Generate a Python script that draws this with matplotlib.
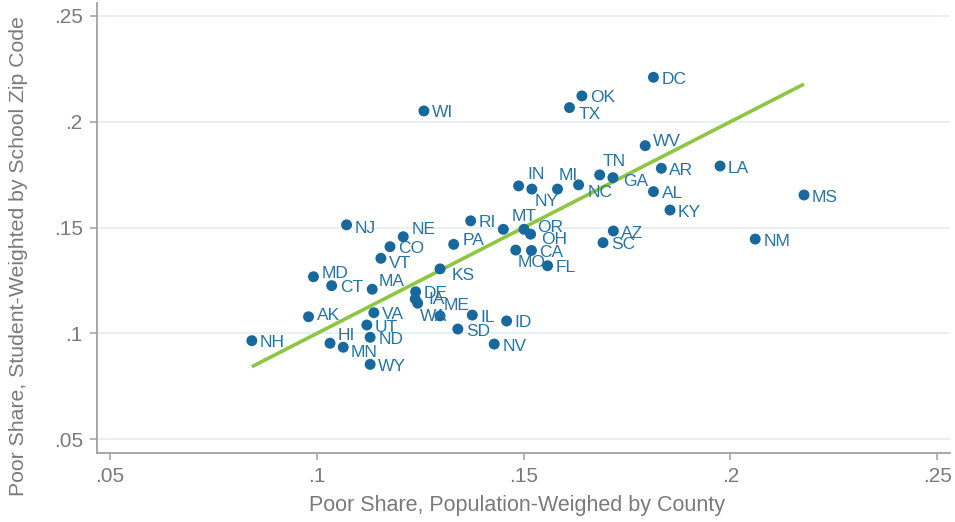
import numpy as np
import matplotlib
matplotlib.use("Agg")
import matplotlib.pyplot as plt
from matplotlib import font_manager

# State poverty shares: county population-weighted (x) vs school zip code student-weighted (y)
states = ['NH', 'AK', 'MD', 'CT', 'HI', 'MN', 'NJ', 'MA', 'VA', 'UT',
          'ND', 'WY', 'VT', 'CO', 'NE', 'DE', 'IA', 'WA', 'ME', 'KS',
          'PA', 'RI', 'IL', 'SD', 'NV', 'ID', 'MT', 'OR', 'OH', 'MO',
          'CA', 'FL', 'IN', 'NY', 'MI', 'NC', 'TN', 'GA', 'AZ', 'SC',
          'DC', 'OK', 'TX', 'WV', 'AR', 'LA', 'AL', 'KY', 'MS', 'NM', 'WI']
pop_share = [0.0843, 0.0980, 0.0992, 0.1036, 0.1032, 0.1064, 0.1072, 0.1134, 0.1138, 0.1121,
             0.1129, 0.1129, 0.1155, 0.1177, 0.1209, 0.1239, 0.1238, 0.1244, 0.1298, 0.1298,
             0.1331, 0.1372, 0.1376, 0.1341, 0.1429, 0.1459, 0.1451, 0.1501, 0.1517, 0.1481,
             0.1519, 0.1558, 0.1488, 0.1520, 0.1582, 0.1633, 0.1684, 0.1716, 0.1717, 0.1692,
             0.1814, 0.1641, 0.1611, 0.1794, 0.1833, 0.1975, 0.1814, 0.1854, 0.2178, 0.2060, 0.1259]
student_share = [0.0966, 0.1079, 0.1268, 0.1226, 0.0954, 0.0935, 0.1513, 0.1209, 0.1098, 0.1040,
                 0.0982, 0.0854, 0.1355, 0.1410, 0.1457, 0.1197, 0.1163, 0.1143, 0.1083, 0.1305,
                 0.1421, 0.1532, 0.1087, 0.1021, 0.0950, 0.1059, 0.1492, 0.1492, 0.1469, 0.1394,
                 0.1392, 0.1320, 0.1697, 0.1682, 0.1682, 0.1702, 0.1749, 0.1736, 0.1484, 0.1429,
                 0.2210, 0.2122, 0.2067, 0.1887, 0.1780, 0.1791, 0.1670, 0.1583, 0.1654, 0.1446, 0.2051]

xticks = [0.05, 0.10, 0.15, 0.20, 0.25]
yticks = [0.05, 0.10, 0.15, 0.20, 0.25]
tick_labels = ['.05', '.1', '.15', '.2', '.25']

# label nudges in pixels (right, down); everything else sits just right of its marker
default_offset = (8, 2)
label_offsets = {
    'MD': (8, -3), 'NE': (8, -7), 'MA': (6, -8), 'HI': (8, -8), 'KS': (12, 7),
    'PA': (9, -4), 'IA': (13, 1), 'WA': (2, 13), 'ME': (4, -10), 'MT': (8, -13),
    'OR': (13, -2), 'OH': (10, 5), 'MO': (2, 12), 'IN': (9, -11), 'NY': (3, 12),
    'MI': (1, -14), 'NC': (9, 8), 'TN': (3, -13), 'GA': (10, 4), 'TX': (9, 7),
    'WV': (8, -4), 'NJ': (8, 4), 'VT': (8, 5), 'MN': (7, 5), 'AK': (8, -1),
}

available = {f.name for f in font_manager.fontManager.ttflist}
font = 'Liberation Sans' if 'Liberation Sans' in available else 'DejaVu Sans'
plt.rcParams['font.family'] = [font, 'DejaVu Sans']

dot_color = '#17689d'
text_color = '#2474a8'
fit_color = '#8dc641'
axis_gray = '#a0a0a0'
label_gray = '#7a7a7a'

fig = plt.figure(figsize=(9.55, 5.22), dpi=100)
ax = fig.add_axes([0.1013, 0.1328, 0.8935, 0.8615])

x = np.array(pop_share)
y = np.array(student_share)

ax.scatter(x, y, s=62, color=dot_color, edgecolors='none', zorder=3)

# 45-degree reference line across the observed range
xs = np.array([x.min(), x.max()])
ax.plot(xs, xs, color=fit_color, lw=2.6, zorder=2, solid_capstyle='butt')

px = 72.0 / fig.dpi
for st, xv, yv in zip(states, x, y):
    dx, dy = label_offsets.get(st, default_offset)
    ax.annotate(st, (xv, yv), xytext=(dx * px, -dy * px), textcoords='offset points',
                ha='left', va='center', fontsize=12.5, color=text_color, zorder=4)

ax.set_xlim(0.0468, 0.2531)
ax.set_ylim(0.0437, 0.2561)
ax.set_xticks(xticks)
ax.set_xticklabels(tick_labels)
ax.set_yticks(yticks)
ax.set_yticklabels(tick_labels)

ax.grid(axis='y', color='#e7eff0', lw=1.3, zorder=0)
ax.set_axisbelow(True)
for side in ['top', 'right']:
    ax.spines[side].set_visible(False)
for side in ['left', 'bottom']:
    ax.spines[side].set_color(axis_gray)
    ax.spines[side].set_linewidth(1.3)
ax.tick_params(colors=axis_gray, labelcolor=label_gray, length=5, width=1.1,
               labelsize=15, pad=5)

# axis titles placed on the figure so they centre on the whole graph region
fig.text(517 / 955, 1 - 505 / 522, 'Poor Share, Population-Weighed by County',
         fontsize=15.5, color=label_gray, ha='center', va='center')
fig.text(19 / 955, 1 - 256 / 522, 'Poor Share, Student-Weighted by School Zip Code',
         fontsize=15.3, color=label_gray, ha='center', va='center', rotation=90)

fig.savefig('out.png', dpi=100, facecolor='white')
